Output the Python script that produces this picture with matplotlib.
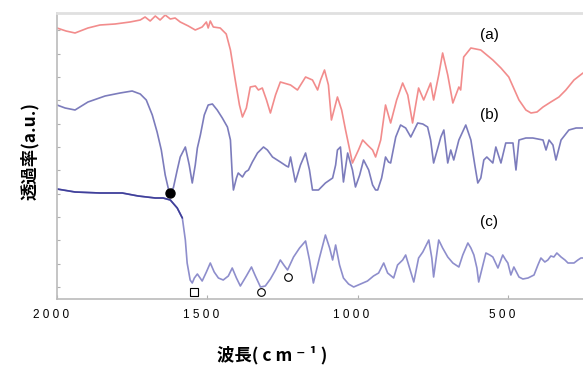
import numpy as np
import matplotlib.pyplot as plt
import matplotlib.transforms as mtransforms

# --- 読み取ったデータ (波数 cm-1, 透過率 a.u.) ---
wn_a = [2000, 1970, 1940, 1897, 1857, 1807, 1757, 1723, 1707, 1690,
        1673, 1657, 1640, 1623, 1607, 1590, 1563, 1540, 1517, 1503,
        1497, 1490, 1480, 1457, 1437, 1423, 1407, 1393, 1383, 1370,
        1357, 1340, 1330, 1317, 1303, 1290, 1273, 1257, 1223, 1200,
        1173, 1150, 1133, 1123, 1110, 1097, 1087, 1067, 1053, 1040,
        1017, 997, 983, 967, 950, 940, 923, 907, 890, 870,
        850, 833, 817, 797, 780, 757, 747, 730, 717, 700,
        683, 663, 657, 647, 623, 590, 550, 523, 497, 463,
        440, 423, 403, 383, 357, 330, 307, 280, 250]
tr_a = [272, 269, 267, 272, 275, 276, 278, 280, 283, 279,
        284, 280, 285, 281, 282, 278, 274, 270, 273, 278,
        272, 279, 273, 272, 266, 250, 220, 195, 183, 192,
        213, 214, 210, 212, 200, 187, 205, 218, 215, 210,
        223, 220, 210, 220, 230, 215, 180, 203, 190, 170,
        137, 150, 160, 155, 150, 143, 160, 195, 177, 200,
        217, 205, 177, 212, 200, 217, 200, 225, 247, 225,
        197, 213, 210, 243, 252, 250, 240, 232, 223, 200,
        190, 187, 188, 193, 198, 203, 210, 220, 227]

wn_b = [2000, 1973, 1940, 1897, 1840, 1790, 1750, 1723, 1703, 1683,
        1667, 1653, 1640, 1627, 1613, 1600, 1590, 1573, 1560, 1550,
        1540, 1533, 1523, 1510, 1497, 1483, 1467, 1450, 1433, 1423,
        1417, 1413, 1403, 1397, 1383, 1373, 1363, 1350, 1333, 1313,
        1300, 1283, 1257, 1237, 1230, 1223, 1207, 1190, 1173, 1160,
        1150, 1130, 1107, 1083, 1073, 1067, 1057, 1047, 1033, 1017,
        1007, 993, 980, 963, 950, 940, 933, 920, 913, 907,
        897, 890, 873, 857, 840, 823, 800, 783, 767, 757,
        747, 733, 723, 713, 700, 690, 680, 663, 640, 623,
        610, 600, 590, 580, 570, 560, 550, 540, 523, 507,
        483, 473, 463, 440, 417, 383, 373, 363, 350, 340,
        323, 297, 273, 250]
tr_b = [195, 192, 190, 198, 204, 207, 209, 206, 200, 185,
        168, 150, 125, 108, 112, 130, 143, 153, 135, 117,
        135, 152, 165, 185, 195, 196, 190, 182, 173, 160,
        125, 110, 122, 127, 123, 128, 130, 138, 147, 153,
        150, 143, 138, 134, 133, 143, 118, 135, 147, 130,
        110, 110, 117, 122, 135, 150, 153, 118, 147, 130,
        113, 125, 140, 130, 115, 110, 110, 122, 133, 143,
        138, 137, 163, 175, 172, 163, 177, 176, 173, 160,
        137, 152, 163, 170, 137, 150, 140, 160, 175, 160,
        135, 117, 122, 140, 143, 140, 137, 153, 137, 157,
        157, 130, 160, 162, 162, 160, 150, 160, 155, 140,
        160, 170, 172, 172]

wn_c = [2000, 1940, 1857, 1783, 1730, 1673, 1647, 1623, 1600, 1583,
        1573, 1567, 1557, 1550, 1543, 1533, 1517, 1503, 1490, 1477,
        1463, 1447, 1430, 1417, 1403, 1390, 1370, 1353, 1340, 1323,
        1307, 1290, 1273, 1257, 1243, 1233, 1213, 1193, 1173, 1160,
        1147, 1127, 1107, 1093, 1083, 1073, 1060, 1047, 1030, 1013,
        990, 967, 947, 930, 913, 900, 880, 867, 850, 840,
        827, 813, 797, 783, 763, 753, 747, 737, 730, 717,
        700, 683, 663, 650, 633, 623, 613, 603, 597, 583,
        573, 560, 550, 533, 517, 507, 500, 490, 480, 463,
        450, 433, 413, 400, 390, 377, 367, 357, 347, 337,
        323, 310, 300, 280, 267, 257, 250]
tr_c = [111, 108, 107, 107, 104, 102, 102, 100, 92, 82,
        60, 37, 20, 17, 22, 26, 19, 28, 37, 28,
        22, 20, 24, 32, 22, 14, 24, 33, 24, 13,
        14, 21, 30, 40, 34, 30, 43, 52, 59, 40,
        17, 42, 65, 52, 40, 55, 35, 22, 16, 13,
        16, 19, 24, 27, 37, 27, 22, 35, 40, 45,
        32, 18, 42, 48, 60, 42, 23, 45, 60, 52,
        43, 37, 33, 45, 57, 52, 45, 32, 18, 35,
        47, 45, 43, 32, 45, 40, 37, 25, 33, 23,
        21, 22, 25, 35, 42, 38, 40, 44, 43, 47,
        43, 40, 37, 37, 40, 42, 42]

# マーカー位置
dot_wn, dot_tr = [1623], [107]
square_wn, square_tr = [1543], [8]
circle_wn, circle_tr = [1320, 1233], [8, 23]

xtick_pos = [2000, 1500, 1000, 500]
xtick_labels = ['2 0 0 0', '1 5 0 0', '1 0 0 0', '5 0 0']
curve_labels = ['(a)', '(b)', '(c)']

fig = plt.figure(figsize=(5.83, 3.65), dpi=100)
ax = fig.add_axes([57 / 583, 66 / 365, 526 / 583, 286 / 365])

kw = dict(lw=1.2, solid_joinstyle='round', solid_capstyle='round')
ax.plot(wn_a, tr_a, color='#f28c8c', **kw)
ax.plot(wn_b, tr_b, color='#7c7cbc', **kw)
ax.plot(wn_c, tr_c, color='#8e8ecc', **kw)
# (c) の左側は濃い色
ax.plot(wn_c[:10], tr_c[:10], color='#40409a', **kw)

ax.plot(dot_wn, dot_tr, 'o', color='black', ms=6.5)
ax.plot(square_wn, square_tr, 's', mfc='white', mec='black', mew=0.8, ms=5.5,
        clip_on=False)
ax.plot(circle_wn, circle_tr, 'o', mfc='white', mec='black', mew=0.8, ms=5.5,
        clip_on=False)

for lab, y in zip(curve_labels, [265, 185, 78]):
    ax.text(562, y, lab, ha='center', va='center', fontsize=11,
            family='Liberation Sans')

ax.set_xlim(2000, 250)
ax.set_ylim(1, 287)
ax.set_xticks(xtick_pos, labels=xtick_labels)
ax.set_yticks(np.arange(13, 287, 23.33))
ax.set_yticklabels([])
ax.tick_params(axis='x', direction='in', length=3, color='#b0b0b0', pad=7,
               labelsize=8.5)
ax.tick_params(axis='y', direction='in', length=2.5, color='#b0b0b0')
for lab in ax.get_xticklabels():
    lab.set_family('Liberation Sans')
    lab.set_transform(lab.get_transform() +
                      mtransforms.ScaledTranslation(-6 / 100, 0, fig.dpi_scale_trans))

for s in ['left', 'bottom']:
    ax.spines[s].set_color('#bbbbbb')
    ax.spines[s].set_linewidth(1.2)
ax.spines['top'].set_color('#e0e0e0')
ax.spines['top'].set_linewidth(2)
ax.spines['right'].set_visible(False)

cjk = ['Noto Sans CJK JP', 'DejaVu Sans']
fig.text(272 / 583, 1 - 355 / 365, '波長( c m ⁻ ¹ )', ha='center', va='center',
         fontsize=12.5, fontweight='bold', family=cjk)
fig.text(30 / 583, 1 - 151 / 365, '透過率(a.u.)', ha='center', va='center',
         rotation=90, fontsize=12.5, fontweight='bold', family=cjk)

fig.savefig('out.png', dpi=100)
